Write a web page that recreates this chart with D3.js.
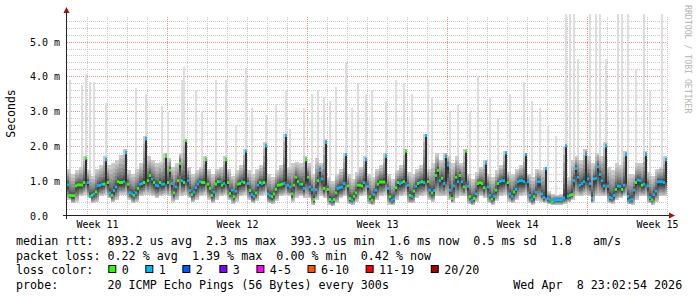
<!DOCTYPE html>
<html lang="en">
<head>
<meta charset="UTF-8">
<title>smokeping month</title>
<script src="https://cdn.jsdelivr.net/npm/d3@7/dist/d3.min.js"></script>
<style>
    body { margin: 0; background: #fff; }
    svg { display: block; background: #fff; }
    svg text { font-family: "DejaVu Sans Mono", monospace; fill: #000; white-space: pre; }
    svg .grid-minor { stroke: #c8c8c8; stroke-dasharray: 1,1; shape-rendering: crispEdges; }
    svg .grid-major { stroke: #e89090; stroke-dasharray: 1,1; shape-rendering: crispEdges; }
    svg .axis-line { stroke: #222; shape-rendering: crispEdges; }
</style>
</head>
<body>
<svg width="697" height="297"></svg>
<script>
// median rtt (ms), one value every 0.1 day (30 days)
var median = [
    0.88,0.58,0.57,0.57,0.85,0.88,0.88,0.88,0.95,1.65,
    0.95,0.55,0.58,0.62,0.68,0.86,0.87,0.90,0.90,1.60,
    0.95,0.65,0.58,0.72,0.82,0.97,0.95,0.95,0.97,1.80,
    0.90,0.66,0.62,0.58,0.65,0.78,0.90,0.92,0.95,2.20,
    1.00,1.15,1.05,0.95,0.87,0.85,0.95,0.90,0.90,1.70,
    0.95,1.30,0.92,0.65,0.82,1.00,1.50,1.00,0.95,2.15,
    1.00,0.72,0.60,0.67,0.80,0.90,0.97,0.95,0.95,1.60,
    0.90,0.78,0.58,0.67,0.90,0.97,0.97,0.87,0.92,1.60,
    0.95,0.63,0.73,0.54,0.70,0.90,0.92,0.97,0.95,1.85,
    0.92,0.72,0.60,0.55,0.65,0.87,0.95,0.92,0.95,2.00,
    0.62,0.57,0.54,0.62,0.75,0.87,0.88,0.90,0.92,2.30,
    0.87,0.82,0.62,0.87,1.10,0.97,0.90,0.90,0.78,1.60,
    1.10,0.82,0.74,0.46,0.74,1.00,1.30,1.05,0.78,2.10,
    0.75,0.46,0.42,0.46,0.65,0.78,0.80,0.82,0.92,1.75,
    0.85,0.49,0.45,0.55,0.65,0.87,0.87,0.85,0.95,1.60,
    0.84,0.54,0.44,0.60,0.73,0.90,0.96,0.96,0.96,1.70,
    0.78,0.54,0.44,0.48,0.80,0.95,0.92,0.95,0.97,1.85,
    0.87,0.58,0.55,0.70,0.84,0.92,0.95,0.97,0.95,2.30,
    0.97,0.73,0.65,0.72,1.15,1.30,1.00,1.07,0.92,1.70,
    1.45,0.73,0.49,0.85,1.10,0.97,1.15,0.97,0.82,1.85,
    0.84,0.54,0.44,0.49,0.62,0.92,0.95,0.92,0.80,1.50,
    0.82,0.58,0.47,0.55,0.73,0.92,0.98,1.00,1.00,1.80,
    0.95,0.62,0.55,0.68,0.75,0.97,1.00,1.00,0.97,1.75,
    0.97,0.58,0.47,0.54,0.67,0.97,0.97,0.62,0.52,1.35,
    0.49,0.45,0.39,0.43,0.45,0.45,0.45,0.45,0.50,2.00,
    0.55,0.58,0.60,1.00,1.35,1.10,0.87,0.92,0.97,1.75,
    1.05,0.92,0.50,1.05,1.07,1.40,1.18,1.00,0.85,2.00,
    0.84,0.52,0.50,0.58,0.75,0.85,0.84,0.75,0.87,1.75,
    0.55,0.44,0.47,0.73,0.95,1.02,1.00,0.87,0.90,1.75,
    0.85,0.52,0.45,0.60,0.70,0.97,0.97,0.97,0.95,1.60
];

// lost pings (of 20) for each median value
var loss = [
    1,0,0,0,0,0,0,0,0,0,  1,1,0,1,0,1,1,1,0,1,  0,1,0,1,1,0,0,0,1,1,
    0,1,1,0,1,0,1,1,0,1,  0,0,1,0,1,1,0,1,1,0,  0,0,1,0,1,0,0,1,0,0,
    1,1,0,1,1,1,1,0,0,0,  0,0,0,1,0,0,1,0,1,0,  0,0,1,0,1,0,0,1,0,1,
    1,0,1,1,0,1,0,1,0,1,  1,1,0,0,0,0,0,0,1,1,  1,1,0,0,0,0,1,0,1,0,
    0,1,1,0,1,0,1,1,0,1,  0,0,1,0,0,1,1,1,1,1,  0,0,1,0,0,0,0,0,1,1,
    1,0,0,1,1,0,0,0,0,1,  1,0,1,1,0,0,1,1,0,0,  1,0,1,0,1,0,1,0,1,1,
    0,1,0,1,0,0,1,0,1,1,  1,1,0,1,0,1,0,1,0,0,  1,0,1,0,1,0,0,0,0,1,
    1,1,0,1,0,0,1,1,1,1,  0,1,1,0,1,1,1,1,1,1,  1,1,1,0,1,1,1,1,1,1,
    1,1,0,1,1,1,1,1,1,1,  1,0,0,1,1,1,1,1,1,1,  1,1,1,1,1,1,1,1,1,1,
    1,1,1,1,0,1,1,0,1,1,  1,1,1,1,0,1,1,0,1,1,  1,1,0,1,1,1,1,1,1,1
];

// smoke: lowest ping and upper edge of the dense smoke, one value every 0.2 day
var smokeLo = [
    0.45,0.35,0.40,0.55,0.60,  0.50,0.35,0.40,0.55,0.60,  0.50,0.38,0.45,0.60,0.60,
    0.45,0.35,0.40,0.55,0.60,  0.60,0.55,0.50,0.55,0.60,  0.55,0.40,0.45,0.55,0.60,
    0.50,0.38,0.45,0.55,0.60,  0.45,0.35,0.45,0.55,0.58,  0.45,0.33,0.40,0.55,0.60,
    0.45,0.35,0.42,0.55,0.60,  0.35,0.32,0.42,0.55,0.58,  0.55,0.40,0.50,0.55,0.50,
    0.50,0.30,0.45,0.55,0.50,  0.30,0.27,0.35,0.50,0.55,  0.32,0.30,0.40,0.55,0.60,
    0.32,0.30,0.45,0.55,0.60,  0.30,0.30,0.45,0.55,0.60,  0.35,0.35,0.50,0.55,0.60,
    0.45,0.40,0.55,0.55,0.55,  0.45,0.35,0.50,0.55,0.55,  0.32,0.30,0.40,0.55,0.50,
    0.35,0.30,0.42,0.55,0.60,  0.40,0.35,0.45,0.55,0.60,  0.35,0.30,0.42,0.40,0.35,
    0.32,0.30,0.30,0.30,0.32,  0.38,0.45,0.55,0.55,0.60,  0.55,0.35,0.55,0.55,0.55,
    0.35,0.33,0.45,0.50,0.55,  0.32,0.30,0.45,0.55,0.55,  0.35,0.30,0.40,0.55,0.55
];
var smokeHi = [
    1.35,1.20,1.30,1.40,1.70,  1.30,1.15,1.35,1.45,1.70,  1.45,1.50,1.60,1.75,1.90,
    1.30,1.20,1.35,1.50,2.30,  1.70,1.60,1.50,1.55,1.80,  1.65,1.40,1.50,1.80,2.20,
    1.40,1.20,1.30,1.40,1.70,  1.35,1.20,1.35,1.40,1.70,  1.35,1.15,1.30,1.45,1.90,
    1.30,1.20,1.35,1.45,2.10,  1.20,1.10,1.30,1.45,2.35,  1.40,1.50,1.55,1.50,1.70,
    1.50,1.20,1.65,1.50,2.20,  1.10,1.00,1.20,1.35,1.80,  1.20,1.05,1.25,1.40,1.70,
    1.20,1.10,1.35,1.45,1.80,  1.20,1.05,1.30,1.45,1.90,  1.25,1.20,1.35,1.45,2.35,
    1.35,1.50,1.80,1.60,1.80,  1.70,1.50,1.70,1.50,1.90,  1.20,1.05,1.25,1.40,1.60,
    1.20,1.10,1.30,1.45,1.85,  1.25,1.20,1.35,1.45,1.80,  1.20,1.10,1.35,1.30,1.40,
    0.70,0.62,0.60,0.62,2.00,  1.10,1.60,1.70,1.60,1.90,  1.70,1.50,1.80,1.70,2.10,
    1.40,1.30,1.50,1.45,1.85,  1.20,1.20,1.50,1.50,1.85,  1.25,1.15,1.35,1.40,1.70
];

// slots where the ping spread jumps: 10th ping (bottom of the dark core)
var coreSlot = [9,19,29,39,49,59,69,79,89,99,109,119,129,139,149,159,169,179,189,199,209,219,229,239,249,259,269,279,289,299];
var coreLo = [1.0,1.0,1.0,1.0,0.95,1.0,1.0,0.95,1.0,1.0,1.0,1.0,0.9,1.0,1.0,1.0,1.0,1.0,1.0,1.0,0.9,1.0,1.0,0.55,0.5,1.0,0.95,0.95,0.95,0.97];

// single slow pings (max rtt) standing above the smoke
var spikeSlot = [1,7,9,11,13,19,34,39,47,50,57,58,64,67,74,79,84,89,92,99,104,109,111,118,122,125,128,131,134,
    139,142,145,149,152,159,164,168,172,180,182,191,195,201,205,211,215,221,228,232,236,240,244,
    249,251,253,255,261,264,266,269,275,277,280,284,288,291,297];
var spikeMax = [3.9,3.75,4.07,3.85,3.84,3.24,3.66,3.48,3.15,3.0,3.9,4.27,3.6,3.0,3.9,3.9,2.6,4.25,3.1,2.9,3.2,3.6,2.5,3.1,3.5,3.6,3.4,3.3,3.7,
    4.4,3.1,3.8,3.5,3.6,3.3,3.9,3.8,3.5,3.9,3.4,3.0,3.2,3.0,4.0,3.4,2.8,3.5,3.85,3.3,3.1,2.6,2.3,
    5.8,5.8,5.8,4.5,5.8,5.8,5.8,4.5,5.8,5.8,5.8,4.2,5.8,3.6,5.8];

var yTickValues = [0, 1, 2, 3, 4, 5];
var yTickLabels = ["0.0  ", "1.0 m", "2.0 m", "3.0 m", "4.0 m", "5.0 m"];
var weekLabelDays = [1.5, 8.5, 15.5, 22.5, 29.5];
var weekLabels = ["Week 11", "Week 12", "Week 13", "Week 14", "Week 15"];
var lossLabels = ["0", "1", "2", "3", "4-5", "6-10", "11-19", "20/20"];
var lossColors = ["#26ff00", "#00b8ff", "#0059ff", "#7e00ff", "#ff00ff", "#ff5500", "#ff0000", "#a00000"];

var statLines = [
    "median rtt:  893.2 us avg  2.3 ms max  393.3 us min  1.6 ms now  0.5 ms sd  1.8   am/s",
    "packet loss: 0.22 % avg  1.39 % max  0.00 % min  0.42 % now",
    "loss color:",
    "probe:       20 ICMP Echo Pings (56 Bytes) every 300s"
];
var stamp = "Wed Apr  8 23:02:54 2026";

var svg = d3.select('svg'),
    step = 0.1,
    x = d3.scaleLinear().domain([0, 30]).range([67, 667]),
    y = d3.scaleLinear().domain([0, 5.75]).range([215.5, 15.5]),
    slotW = x(step) - x(0);

// grid
var grid = svg.append('g');
var minorY = d3.range(1, 29).map(function(d) { return d * 0.2; }).filter(function(d) { return Math.abs(d - Math.round(d)) > 0.01; });
grid.selectAll('.hm').data(minorY).enter().append('line')
    .classed('grid-minor', true)
    .attr('x1', x(0)).attr('x2', x(30))
    .attr('y1', function(d) { return Math.round(y(d)) + 0.5; })
    .attr('y2', function(d) { return Math.round(y(d)) + 0.5; });
var dayLines = d3.range(0, 30).map(function(k) { return 0.985 + k; });
grid.selectAll('.vm').data(dayLines).enter().append('line')
    .attr('class', function(d, k) { return k % 7 === 4 ? 'grid-major' : 'grid-minor'; })
    .attr('y1', y(0)).attr('y2', y(5.75))
    .attr('x1', function(d) { return Math.round(x(d)) + 0.5; })
    .attr('x2', function(d) { return Math.round(x(d)) + 0.5; });
grid.selectAll('.hM').data(yTickValues.slice(1)).enter().append('line')
    .classed('grid-major', true)
    .attr('x1', x(0)).attr('x2', x(30))
    .attr('y1', function(d) { return Math.round(y(d)) + 0.5; })
    .attr('y2', function(d) { return Math.round(y(d)) + 0.5; });

// smoke
var spikeAt = {}, coreAt = {};
spikeSlot.forEach(function(s, k) { spikeAt[s] = spikeMax[k]; });
coreSlot.forEach(function(s, k) { coreAt[s] = coreLo[k]; });

function grey(b) {
    var c = Math.round(190 / 10 * (10 - b) + 50);
    return 'rgb(' + c + ',' + c + ',' + c + ')';
}

var smoke = svg.append('g').attr('shape-rendering', 'crispEdges');
median.forEach(function(med, i) {
    var s = Math.floor(i / 2),
        lo = Math.min(smokeLo[s], med - 0.05),
        hi = Math.max(smokeHi[s], med + 0.05),
        top = spikeAt[i] !== undefined ? Math.max(spikeAt[i], hi) : hi,
        core = coreAt[i],
        x0 = x(i * step);
    smoke.append('rect')
        .attr('x', x0).attr('width', slotW)
        .attr('y', y(top)).attr('height', y(lo) - y(top))
        .attr('fill', grey(1));
    for (var b = 2; b <= 10; b++) {
        var t = (11 - b) / 9, bLo, bHi;
        if (core !== undefined) {
            bLo = core - (core - lo) * Math.pow(t, 1.5);
            bHi = med + (hi - med) * Math.pow(t, 1.6);
        } else {
            bLo = med - (med - lo) * Math.pow(t, 0.9);
            bHi = med + (hi - med) * Math.pow(t, 1.6);
        }
        smoke.append('rect')
            .attr('x', x0).attr('width', slotW)
            .attr('y', y(bHi)).attr('height', Math.max(0, y(bLo) - y(bHi)))
            .attr('fill', grey(b));
    }
});

// median, coloured by loss
svg.append('g').selectAll('rect').data(median).enter().append('rect')
    .attr('x', function(d, i) { return x(i * step); })
    .attr('width', slotW)
    .attr('y', function(d) { return y(d) - 1.5; })
    .attr('height', 3)
    .attr('fill', function(d, i) { return lossColors[loss[i]]; });

// axes
var yAxis = svg.append('g')
    .attr('transform', 'translate(' + x(0) + ',0)')
    .call(d3.axisLeft(y).tickValues(yTickValues).tickSize(0).tickFormat(function(d, i) { return yTickLabels[i]; }));
yAxis.select('.domain').remove();
yAxis.selectAll('text')
    .attr('x', -37).attr('dy', '0.35em')
    .style('text-anchor', 'start')
    .style('font-size', '10px')
    .style('font-family', '"DejaVu Sans Mono", monospace')
    .style('fill', '#000');

var xAxis = svg.append('g')
    .attr('transform', 'translate(0,' + y(0) + ')')
    .call(d3.axisBottom(x).tickValues(weekLabelDays).tickSize(0).tickFormat(function(d, i) { return weekLabels[i]; }));
xAxis.select('.domain').remove();
xAxis.selectAll('text')
    .attr('y', 5)
    .style('font-size', '10px')
    .style('font-family', '"DejaVu Sans Mono", monospace')
    .style('fill', '#000');

svg.append('line').classed('axis-line', true)
    .attr('x1', 63).attr('x2', 670).attr('y1', 215.5).attr('y2', 215.5);
svg.append('line').classed('axis-line', true)
    .attr('x1', 66.5).attr('x2', 66.5).attr('y1', 219).attr('y2', 12);
svg.append('path').attr('d', 'M63.5,13 L69.5,13 L66.5,7 Z').attr('fill', '#a01010');
svg.append('path').attr('d', 'M669,212.5 L669,218.5 L675,215.5 Z').attr('fill', '#a01010');

// titles
svg.append('text')
    .attr('transform', 'translate(15,113.5) rotate(-90)')
    .attr('text-anchor', 'middle')
    .style('font-size', '11.5px')
    .text('Seconds');
svg.append('text')
    .attr('transform', 'translate(684.5,5) rotate(90)')
    .style('font-size', '8.2px')
    .style('fill', '#b4b4b4')
    .text('RRDTOOL / TOBI OETIKER');

// legend
var lineY = [244.5, 259.5, 273.5, 288.5],
    cw = 7.03;
var legend = svg.append('g').style('font-size', '11.7px');
statLines.forEach(function(t, k) {
    legend.append('text').attr('x', 16).attr('y', lineY[k]).text(t);
});
legend.append('text').attr('x', 513.3).attr('y', lineY[3]).text(stamp);

var bx = 108.3;
lossLabels.forEach(function(lab, k) {
    legend.append('rect')
        .attr('x', bx + 0.5).attr('y', lineY[2] - 8)
        .attr('width', 7).attr('height', 7)
        .attr('fill', lossColors[k])
        .attr('stroke', '#000').attr('stroke-width', 1);
    legend.append('text').attr('x', bx + 13.4).attr('y', lineY[2]).text(lab);
    bx = bx + 13.4 + lab.length * cw + 16.6;
});
</script>
</body>
</html>
